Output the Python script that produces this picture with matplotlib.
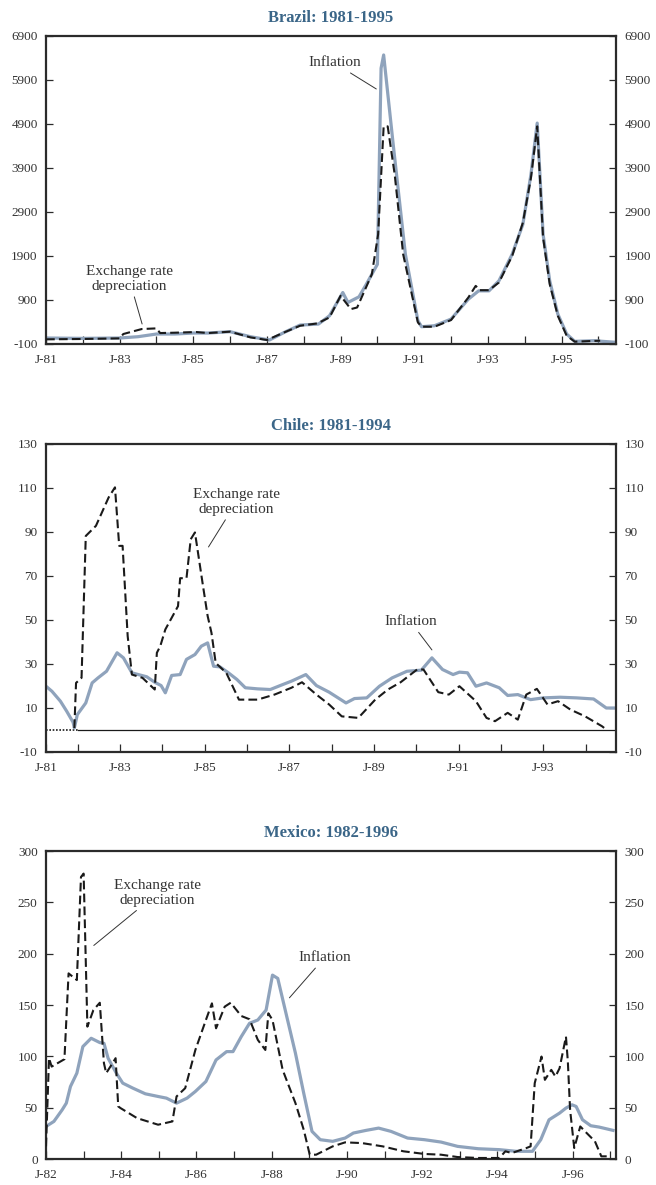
import matplotlib.pyplot as plt
import numpy as np

plt.rcParams['font.family'] = ['Liberation Serif', 'DejaVu Serif']

# ---- Brazil 1981-1995 ----
br_inf_t = [1981.0, 1982.0, 1983.0, 1983.5, 1984.0, 1984.5, 1985.0, 1985.4, 1986.0, 1986.55,
            1987.07, 1987.47, 1987.9, 1988.4, 1988.7, 1989.06, 1989.2, 1989.5, 1989.7, 1990.0,
            1990.1, 1990.17, 1990.42, 1990.76, 1991.1, 1991.2, 1991.55, 1992.0, 1992.47, 1992.75,
            1993.03, 1993.3, 1993.66, 1993.95, 1994.17, 1994.34, 1994.5, 1994.68, 1994.9, 1995.14,
            1995.36, 1995.88, 1996.48]
br_inf_v = [36, 28, 36, 66, 127, 127, 149, 149, 180, 66,
            -9, 164, 330, 353, 542, 1070, 844, 972, 1259, 1712,
            6167, 6469, 4506, 1939, 429, 293, 315, 466, 919, 1108,
            1108, 1335, 1939, 2618, 3751, 4921, 2392, 1335, 580, 127,
            -40, -25, -62]
br_exr_t = [1981.0, 1982.0, 1983.0, 1983.1, 1983.6, 1984.0, 1984.1, 1984.5, 1985.08, 1985.4,
            1986.0, 1986.55, 1987.0, 1987.47, 1987.9, 1988.37, 1988.7, 1989.0, 1989.28, 1989.45,
            1989.85, 1990.02, 1990.17, 1990.28, 1990.47, 1990.7, 1991.1, 1991.2, 1991.55, 1992.0,
            1992.47, 1992.67, 1992.78, 1993.03, 1993.3, 1993.66, 1993.95, 1994.17, 1994.34, 1994.5,
            1994.68, 1994.9, 1995.14, 1995.36, 1996.05]
br_exr_v = [6, 14, 28, 127, 240, 255, 149, 157, 172, 149,
            180, 51, -9, 164, 315, 368, 504, 995, 693, 730,
            1486, 2392, 4846, 4846, 3751, 1939, 391, 293, 293, 444,
            957, 1221, 1123, 1123, 1297, 1901, 2656, 3676, 4846, 2316,
            1259, 542, 89, -47, -25]

# ---- Chile 1981-1994 ----
cl_inf_t = [1981.2, 1981.39, 1981.59, 1981.74, 1981.89, 1981.92, 1981.99, 1982.19, 1982.34, 1982.48,
            1982.68, 1982.93, 1983.08, 1983.28, 1983.43, 1983.63, 1983.82, 1983.97, 1984.07, 1984.22,
            1984.42, 1984.57, 1984.77, 1984.92, 1985.07, 1985.21, 1985.36, 1985.56, 1985.76, 1985.96,
            1986.25, 1986.55, 1986.85, 1987.05, 1987.39, 1987.64, 1987.94, 1988.34, 1988.54, 1988.83,
            1989.13, 1989.43, 1989.78, 1990.12, 1990.37, 1990.62, 1990.87, 1991.02, 1991.21, 1991.41,
            1991.66, 1991.96, 1992.16, 1992.4, 1992.7, 1993.0, 1993.4, 1993.79, 1994.19, 1994.49,
            1994.72]
cl_inf_v = [20.7, 17.6, 13.1, 8.5, 3.5, 0.9, 7.0, 12.3, 21.4, 23.7,
            26.7, 35.1, 32.8, 26.0, 25.2, 24.2, 21.7, 20.2, 16.9, 24.8,
            25.2, 32.1, 34.3, 38.1, 39.6, 29.0, 28.7, 26.0, 23.0, 19.2,
            18.7, 18.4, 20.7, 22.2, 25.2, 20.2, 17.2, 12.3, 14.3, 14.6,
            19.9, 23.7, 26.7, 27.2, 32.8, 27.5, 25.2, 26.3, 26.0, 19.9,
            21.4, 19.2, 15.7, 16.1, 13.8, 14.6, 14.9, 14.6, 14.1, 10.0,
            10.0]
cl_exr_t = [1981.92, 1981.96, 1982.09, 1982.19, 1982.43, 1982.73, 1982.88, 1982.98, 1983.06, 1983.18,
            1983.28, 1983.53, 1983.82, 1983.87, 1983.95, 1984.07, 1984.37, 1984.42, 1984.57, 1984.67,
            1984.77, 1984.96, 1985.07, 1985.16, 1985.26, 1985.51, 1985.81, 1986.25, 1986.65, 1987.05,
            1987.3, 1987.64, 1987.94, 1988.24, 1988.63, 1989.03, 1989.33, 1989.63, 1990.02, 1990.17,
            1990.52, 1990.77, 1991.02, 1991.41, 1991.66, 1991.86, 1992.16, 1992.4, 1992.6, 1992.85,
            1993.1, 1993.35, 1993.64, 1993.99, 1994.39, 1994.49]
cl_exr_v = [0.9, 21.4, 23.7, 88.2, 92.8, 105.7, 110.3, 83.7, 83.7, 42.7,
            25.2, 23.7, 18.4, 35.1, 38.1, 45.7, 56.3, 69.0, 69.0, 86.7,
            89.8, 65.5, 51.8, 44.2, 30.5, 26.0, 13.8, 13.8, 16.1, 19.2,
            21.7, 16.1, 11.6, 6.2, 5.5, 13.8, 18.4, 21.7, 27.5, 27.5,
            17.2, 16.1, 19.9, 13.1, 5.5, 4.0, 7.8, 4.7, 16.1, 18.7,
            11.6, 13.1, 9.3, 6.2, 1.7, 0.2]

# ---- Mexico 1982-1996 ----
mx_inf_t = [1982.0, 1982.21, 1982.43, 1982.54, 1982.65, 1982.82, 1982.98, 1983.2, 1983.43, 1983.54,
            1983.65, 1983.87, 1984.04, 1984.31, 1984.64, 1984.98, 1985.2, 1985.47, 1985.75, 1985.97,
            1986.25, 1986.52, 1986.8, 1986.97, 1987.19, 1987.41, 1987.63, 1987.85, 1988.02, 1988.16,
            1988.4, 1988.63, 1988.85, 1989.07, 1989.29, 1989.62, 1989.95, 1990.17, 1990.51, 1990.84,
            1991.17, 1991.61, 1992.06, 1992.5, 1992.94, 1993.49, 1994.05, 1994.49, 1994.93, 1995.15,
            1995.37, 1995.65, 1995.82, 1995.98, 1996.09, 1996.26, 1996.48, 1996.7, 1997.07]
mx_inf_v = [31.7, 36.6, 47.9, 54.4, 70.6, 83.6, 109.5, 117.6, 113.4, 112.7,
            98.2, 83.6, 73.9, 69.0, 63.5, 60.9, 59.3, 54.4, 59.3, 65.8,
            75.5, 96.5, 104.6, 104.6, 119.2, 132.2, 135.4, 145.1, 179.1, 175.9,
            138.6, 103.0, 64.1, 26.9, 18.8, 17.2, 20.4, 25.3, 27.9, 30.1,
            26.9, 20.4, 18.8, 16.5, 12.3, 10.0, 9.1, 7.5, 7.5, 18.8,
            38.2, 44.7, 49.6, 52.8, 51.2, 38.2, 32.4, 31.1, 27.9]
mx_exr_t = [1982.0, 1982.08, 1982.15, 1982.49, 1982.6, 1982.82, 1982.93, 1983.0, 1983.1, 1983.26,
            1983.43, 1983.54, 1983.6, 1983.74, 1983.85, 1983.92, 1983.98, 1984.42, 1984.98, 1985.36,
            1985.47, 1985.7, 1985.97, 1986.25, 1986.41, 1986.52, 1986.75, 1986.91, 1987.19, 1987.41,
            1987.63, 1987.83, 1987.91, 1988.02, 1988.29, 1988.63, 1988.85, 1989.01, 1989.18, 1989.62,
            1989.95, 1990.4, 1990.95, 1991.5, 1992.06, 1992.5, 1992.94, 1993.49, 1994.05, 1994.21,
            1994.38, 1994.77, 1994.88, 1994.99, 1995.17, 1995.26, 1995.43, 1995.54, 1995.65, 1995.82,
            1995.87, 1995.93, 1996.04, 1996.2, 1996.37, 1996.59, 1996.76, 1996.92]
mx_exr_v = [12.3, 98.2, 90.0, 97.2, 180.8, 174.3, 274.7, 278.0, 128.9, 145.1,
            152.2, 93.3, 83.6, 91.7, 98.2, 51.2, 49.6, 39.8, 33.4, 36.6,
            60.9, 69.0, 106.2, 135.4, 151.6, 127.3, 148.4, 152.2, 139.3, 136.1,
            116.0, 106.2, 141.9, 135.4, 86.8, 54.4, 28.5, 4.2, 4.2, 12.3,
            16.2, 15.5, 12.3, 7.5, 4.9, 4.2, 1.9, 1.0, 1.0, 7.5,
            5.8, 10.7, 12.3, 73.9, 99.8, 77.1, 86.8, 80.3, 88.4, 119.2,
            94.9, 47.9, 10.7, 31.7, 25.3, 17.2, 2.6, 2.6]

INF_COLOR = '#8fa3bc'
TITLE_COLOR = '#3b6688'
TXT = '#333333'

fig = plt.figure(figsize=(6.56, 11.85), dpi=100)
W, H = 656, 1185


def make_axes(top, bottom):
    return fig.add_axes([46 / W, 1 - bottom / H, 570 / W, (bottom - top) / H])


def style(ax, title, xlim, ylim, yticks, xticks, xlabels):
    ax.set_xlim(*xlim)
    ax.set_ylim(*ylim)
    for s in ax.spines.values():
        s.set_linewidth(1.6)
        s.set_color('#2b2b2b')
    ax.set_yticks(yticks)
    ax.set_yticklabels([str(v) for v in yticks])
    ax.tick_params(axis='y', direction='in', length=5, width=0.9, color='#2b2b2b',
                   left=True, right=True, labelleft=True, labelright=True,
                   labelsize=9.5, labelcolor=TXT, pad=6)
    ax.set_xticks(xticks)
    ax.set_xticklabels(xlabels)
    ax.tick_params(axis='x', direction='in', length=6, width=0.9, color='#2b2b2b',
                   bottom=True, top=False, labelsize=9.5, labelcolor=TXT, pad=7)
    ax.set_title(title, fontsize=12, fontweight='bold', color=TITLE_COLOR, pad=10)


def year_labels(years, first):
    return ['J-%02d' % (y % 100) if (y - first) % 2 == 0 else '' for y in years]


def note(ax, text, xy, xytext):
    ax.annotate(text, xy=xy, xytext=xytext, ha='center', va='center', fontsize=11,
                color=TXT, linespacing=1.15,
                arrowprops=dict(arrowstyle='-', lw=0.7, color=TXT, shrinkA=1, shrinkB=0))


def lines(ax, ti, vi, te, ve):
    ax.plot(ti, vi, color=INF_COLOR, lw=2.3, solid_joinstyle='round', zorder=2)
    ax.plot(te, ve, color='#1a1a1a', lw=1.5, dashes=(4.2, 2.0), zorder=3)


# Brazil
ax1 = make_axes(36, 344)
lines(ax1, br_inf_t, br_inf_v, br_exr_t, br_exr_v)
br_years = list(range(1981, 1997))
style(ax1, 'Brazil: 1981-1995', (1981, 1996.48), (-100, 6900),
      list(range(-100, 6901, 1000)), br_years, year_labels(br_years, 1981))
note(ax1, 'Inflation', (1989.97, 5696), (1988.83, 6287))
note(ax1, 'Exchange rate\ndepreciation', (1983.61, 355), (1983.26, 1377))

# Chile
ax2 = make_axes(444, 752)
lines(ax2, cl_inf_t, cl_inf_v, cl_exr_t, cl_exr_v)
ax2.plot([1982, 1994.72], [0, 0], color='#1a1a1a', lw=0.9, zorder=1)
ax2.plot([1981.25, 1982], [0, 0], color='#1a1a1a', lw=1.2, ls=(0, (1, 1)), zorder=1)
cl_years = list(range(1982, 1995))
style(ax2, 'Chile: 1981-1994', (1981.25, 1994.72), (-10, 130),
      list(range(-10, 131, 20)), [1981.25] + cl_years,
      ['J-81'] + year_labels(cl_years, 1983))
note(ax2, 'Exchange rate\ndepreciation', (1985.09, 83.2), (1985.75, 103.6))
note(ax2, 'Inflation', (1990.37, 36.4), (1989.87, 49.1))

# Mexico
ax3 = make_axes(851, 1159)
lines(ax3, mx_inf_t, mx_inf_v, mx_exr_t, mx_exr_v)
mx_years = list(range(1982, 1998))
style(ax3, 'Mexico: 1982-1996', (1982, 1997.15), (0, 300),
      list(range(0, 301, 50)), mx_years, year_labels(mx_years, 1982))
note(ax3, 'Exchange rate\ndepreciation', (1983.27, 208), (1984.97, 259))
note(ax3, 'Inflation', (1988.47, 157), (1989.4, 196))

fig.savefig('out.png', dpi=100)
